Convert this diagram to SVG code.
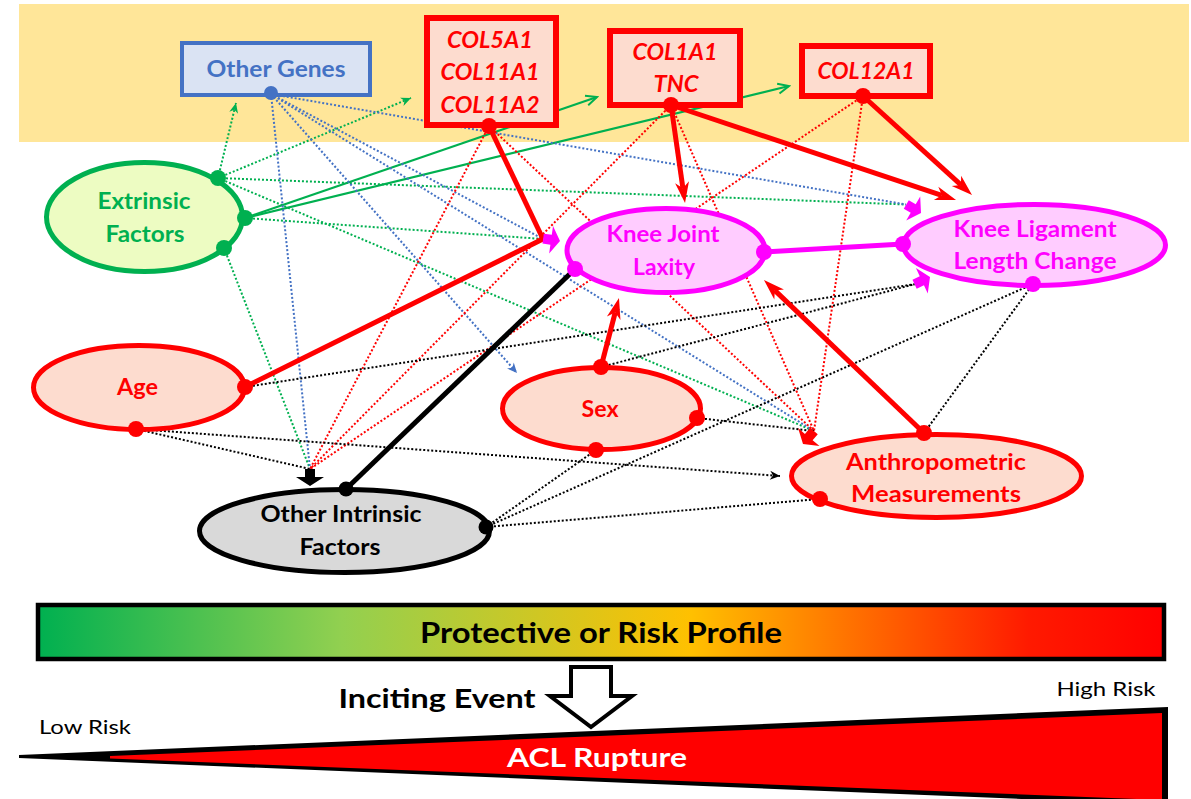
<svg xmlns="http://www.w3.org/2000/svg" xmlns:xlink="http://www.w3.org/1999/xlink" width="1191" height="799" viewBox="0 0 1191 799">
<style>
text{font-family:Lato,"Liberation Sans",sans-serif;font-weight:bold;text-anchor:middle}
.lbl{font-size:23px}
.gene{font-size:23px;font-style:italic;fill:#FF0000}
.dl{fill:none;stroke-width:2;stroke-dasharray:2 2}
.g{stroke:#00B050}.b{stroke:#4472C4}.r{stroke:#FF0000}.k{stroke:#000}
.thick{fill:none;stroke-width:5}
.pinkfill{fill:#FDDCCF;stroke:#FF0000;stroke-width:5}
</style>
<defs>
<linearGradient id="grad" x1="0" x2="1" y1="0" y2="0">
<stop offset="0" stop-color="#00B050"/>
<stop offset="0.27" stop-color="#92D050"/>
<stop offset="0.58" stop-color="#FFC000"/>
<stop offset="0.88" stop-color="#FF1A00"/>
<stop offset="1" stop-color="#FF0000"/>
</linearGradient>
<path id="blk" d="M0,0 L-9,-14 L-9,-5 L-17,-5 L-17,5 L-9,5 L-9,14 Z"/>
<marker id="mR" markerUnits="userSpaceOnUse" viewBox="-1 -8 24 16" markerWidth="24" markerHeight="16" refX="6" refY="0" orient="auto"><path d="M0,-7 L21,0 L0,7 L6,0 Z" fill="#FF0000"/></marker>
<marker id="mGo" markerUnits="userSpaceOnUse" viewBox="-13 -7 15 14" markerWidth="15" markerHeight="14" refX="0" refY="0" orient="auto"><path d="M-11,-5 L0,0 L-11,5" fill="none" stroke="#00B050" stroke-width="2"/></marker>
<marker id="mG" markerUnits="userSpaceOnUse" viewBox="-12 -6 13 12" markerWidth="13" markerHeight="12" refX="0" refY="0" orient="auto"><path d="M-10,-4.5 L0,0 L-10,4.5 L-7,0 Z" fill="#00B050"/></marker>
<marker id="mB" markerUnits="userSpaceOnUse" viewBox="-12 -6 13 12" markerWidth="13" markerHeight="12" refX="0" refY="0" orient="auto"><path d="M-10,-4.5 L0,0 L-10,4.5 L-7,0 Z" fill="#4472C4"/></marker>
<marker id="mK" markerUnits="userSpaceOnUse" viewBox="-12 -6 13 12" markerWidth="13" markerHeight="12" refX="0" refY="0" orient="auto"><path d="M-10,-4.5 L0,0 L-10,4.5 L-7,0 Z" fill="#000"/></marker>
</defs>
<rect x="0" y="0" width="1191" height="799" fill="#FFFFFF"/>
<rect x="19" y="4" width="1170" height="138" fill="#FFE699"/>

<g id="connectors">
<!-- green dotted -->
<line class="dl g" x1="218" y1="178" x2="236" y2="103" marker-end="url(#mG)"/>
<line class="dl g" x1="218" y1="178" x2="411" y2="98" marker-end="url(#mG)"/>
<line class="dl g" x1="218" y1="178" x2="906" y2="204.5"/>
<line class="dl g" x1="218" y1="178" x2="814" y2="431"/>
<line class="dl g" x1="245" y1="218" x2="543" y2="239"/>
<line class="dl g" x1="224" y1="248" x2="310" y2="469"/>
<!-- green solid -->
<line fill="none" stroke="#00B050" stroke-width="2.2" x1="245" y1="218" x2="597" y2="97" marker-end="url(#mGo)"/>
<line fill="none" stroke="#00B050" stroke-width="2.2" x1="245" y1="218" x2="789" y2="86" marker-end="url(#mGo)"/>
<!-- blue dotted -->
<line class="dl b" x1="271" y1="94" x2="310" y2="469"/>
<line class="dl b" x1="271" y1="94" x2="517" y2="373" marker-end="url(#mB)"/>
<line class="dl b" x1="271" y1="94" x2="543" y2="239"/>
<line class="dl b" x1="271" y1="94" x2="906" y2="204.5"/>
<line class="dl b" x1="271" y1="94" x2="814" y2="431"/>
<!-- red dotted -->
<line class="dl r" x1="489" y1="126" x2="310" y2="469"/>
<line class="dl r" x1="489" y1="126" x2="814" y2="431"/>
<line class="dl r" x1="671" y1="105" x2="310" y2="469"/>
<line class="dl r" x1="671" y1="105" x2="814" y2="431"/>
<line class="dl r" x1="863" y1="96" x2="310" y2="469"/>
<line class="dl r" x1="863" y1="96" x2="814" y2="431"/>
<!-- black dotted -->
<line class="dl k" x1="245" y1="387" x2="914.6" y2="284.2"/>
<line class="dl k" x1="601" y1="367" x2="914.6" y2="284.2"/>
<line class="dl k" x1="136" y1="429" x2="310" y2="469"/>
<line class="dl k" x1="136" y1="429" x2="780" y2="476" marker-end="url(#mK)"/>
<line class="dl k" x1="697" y1="418" x2="814" y2="431"/>
<line class="dl k" x1="924" y1="433" x2="1033" y2="284"/>
<line class="dl k" x1="486" y1="527" x2="596" y2="450"/>
<line class="dl k" x1="486" y1="527" x2="1033" y2="284"/>
<line class="dl k" x1="486" y1="527" x2="820" y2="499"/>
<!-- thick red -->
<line class="thick r" x1="489" y1="126" x2="543" y2="239"/>
<line class="thick r" x1="245" y1="387" x2="543" y2="239"/>
<line class="thick r" x1="671" y1="105" x2="682.9" y2="188.2" marker-end="url(#mR)"/>
<line class="thick r" x1="671" y1="105" x2="941.8" y2="195.3" marker-end="url(#mR)"/>
<line class="thick r" x1="863" y1="96" x2="960.9" y2="184.9" marker-end="url(#mR)"/>
<line class="thick r" x1="601" y1="367" x2="615.2" y2="312.5" marker-end="url(#mR)"/>
<line class="thick r" x1="924" y1="433" x2="774.8" y2="290.4" marker-end="url(#mR)"/>
<!-- thick black and magenta -->
<line class="thick k" x1="346" y1="489" x2="575" y2="269"/>
<line class="thick" stroke="#FF00FF" x1="764" y1="252" x2="903" y2="244"/>
<!-- block arrowheads -->
<use xlink:href="#blk" href="#blk" transform="translate(310,486) rotate(90)" fill="#000"/>
<use xlink:href="#blk" href="#blk" transform="translate(803,444) rotate(130)" fill="#FF0000"/>
<use xlink:href="#blk" href="#blk" transform="translate(560,241) rotate(8)" fill="#FF00FF"/>
<use xlink:href="#blk" href="#blk" transform="translate(921,213) rotate(30)" fill="#FF00FF"/>
<use xlink:href="#blk" href="#blk" transform="translate(930,277) rotate(-25)" fill="#FF00FF"/>
</g>

<g id="node-other-genes">
<rect x="182" y="43" width="188" height="52" fill="#DAE3F3" stroke="#4472C4" stroke-width="4"/>
<text class="lbl" x="276" y="77" fill="#4472C4" textLength="139" lengthAdjust="spacingAndGlyphs">Other Genes</text>
<circle cx="271" cy="93" r="7" fill="#4472C4"/>
</g>
<g id="node-col5a1">
<rect x="427" y="18" width="129" height="107" fill="#FDDCCF" stroke="#FF0000" stroke-width="6"/>
<text class="gene" x="490" y="48" textLength="86" lengthAdjust="spacingAndGlyphs">COL5A1</text>
<text class="gene" x="490" y="80" textLength="99" lengthAdjust="spacingAndGlyphs">COL11A1</text>
<text class="gene" x="490" y="113" textLength="99" lengthAdjust="spacingAndGlyphs">COL11A2</text>
<circle cx="489" cy="126" r="8" fill="#FF0000"/>
</g>
<g id="node-col1a1">
<rect x="610" y="31" width="130" height="74" fill="#FDDCCF" stroke="#FF0000" stroke-width="6"/>
<text class="gene" x="675" y="60" textLength="85" lengthAdjust="spacingAndGlyphs">COL1A1</text>
<text class="gene" x="676" y="92" textLength="45" lengthAdjust="spacingAndGlyphs">TNC</text>
<circle cx="671" cy="105" r="8" fill="#FF0000"/>
</g>
<g id="node-col12a1">
<rect x="802" y="46" width="128" height="50" fill="#FDDCCF" stroke="#FF0000" stroke-width="6"/>
<text class="gene" x="866" y="79" textLength="97" lengthAdjust="spacingAndGlyphs">COL12A1</text>
<circle cx="863" cy="96" r="8" fill="#FF0000"/>
</g>
<g id="node-extrinsic">
<ellipse cx="144.5" cy="217" rx="98" ry="54.5" fill="#EDFCC2" stroke="#00B050" stroke-width="5"/>
<text class="lbl" x="144" y="209" fill="#00B050" textLength="93" lengthAdjust="spacingAndGlyphs">Extrinsic</text>
<text class="lbl" x="145" y="242" fill="#00B050" textLength="79" lengthAdjust="spacingAndGlyphs">Factors</text>
<circle cx="218" cy="178" r="8" fill="#00B050"/>
<circle cx="245" cy="218" r="8" fill="#00B050"/>
<circle cx="224" cy="248" r="8" fill="#00B050"/>
</g>
<g id="node-knee-joint-laxity">
<ellipse cx="666" cy="250.5" rx="99" ry="42" fill="#FFCCFF" stroke="#FF00FF" stroke-width="5"/>
<text class="lbl" x="663" y="242" fill="#FF00FF" textLength="113" lengthAdjust="spacingAndGlyphs">Knee Joint</text>
<text class="lbl" x="664" y="275" fill="#FF00FF" textLength="62" lengthAdjust="spacingAndGlyphs">Laxity</text>
<circle cx="575" cy="269" r="8" fill="#FF00FF"/>
<circle cx="764" cy="252" r="8" fill="#FF00FF"/>
</g>
<g id="node-knee-ligament">
<ellipse cx="1034.5" cy="245" rx="131" ry="40.5" fill="#FFCCFF" stroke="#FF00FF" stroke-width="5"/>
<text class="lbl" x="1035" y="237" fill="#FF00FF" textLength="163" lengthAdjust="spacingAndGlyphs">Knee Ligament</text>
<text class="lbl" x="1035" y="269" fill="#FF00FF" textLength="163" lengthAdjust="spacingAndGlyphs">Length Change</text>
<circle cx="903" cy="244" r="8" fill="#FF00FF"/>
<circle cx="1033" cy="284" r="8" fill="#FF00FF"/>
</g>
<g id="node-age">
<ellipse class="pinkfill" cx="139" cy="387.5" rx="105.5" ry="42"/>
<text class="lbl" x="137.5" y="395" fill="#FF0000" textLength="41" lengthAdjust="spacingAndGlyphs">Age</text>
<circle cx="245" cy="387" r="8" fill="#FF0000"/>
<circle cx="136" cy="429" r="8" fill="#FF0000"/>
</g>
<g id="node-sex">
<ellipse class="pinkfill" cx="601.5" cy="408.5" rx="99" ry="41"/>
<text class="lbl" x="600" y="417" fill="#FF0000" textLength="37" lengthAdjust="spacingAndGlyphs">Sex</text>
<circle cx="601" cy="367" r="8" fill="#FF0000"/>
<circle cx="697" cy="418" r="8" fill="#FF0000"/>
<circle cx="596" cy="450" r="8" fill="#FF0000"/>
</g>
<g id="node-anthropometric">
<ellipse class="pinkfill" cx="936.5" cy="476" rx="145" ry="41.5"/>
<text class="lbl" x="936" y="470" fill="#FF0000" textLength="180" lengthAdjust="spacingAndGlyphs">Anthropometric</text>
<text class="lbl" x="936" y="502" fill="#FF0000" textLength="170" lengthAdjust="spacingAndGlyphs">Measurements</text>
<circle cx="924" cy="433" r="8" fill="#FF0000"/>
<circle cx="820" cy="499" r="8" fill="#FF0000"/>
</g>
<g id="node-other-intrinsic">
<ellipse cx="344.5" cy="531" rx="145" ry="41.5" fill="#D9D9D9" stroke="#000" stroke-width="5"/>
<text class="lbl" x="341" y="522" fill="#000" textLength="161" lengthAdjust="spacingAndGlyphs">Other Intrinsic</text>
<text class="lbl" x="340" y="555" fill="#000" textLength="81" lengthAdjust="spacingAndGlyphs">Factors</text>
<circle cx="346" cy="489" r="7.5" fill="#000"/>
<circle cx="486" cy="527" r="7.5" fill="#000"/>
</g>

<g id="risk-bar">
<rect x="38" y="605" width="1126" height="54" fill="url(#grad)" stroke="#000" stroke-width="4.5"/>
<text x="601" y="643" font-size="28" fill="#000" textLength="362" lengthAdjust="spacingAndGlyphs">Protective or Risk Profile</text>
</g>
<g id="inciting-event">
<polygon points="571,667 611,667 611,696 632,696 591,727 550,696 571,696" fill="#FFFFFF" stroke="#000" stroke-width="4" stroke-linejoin="miter"/>
<text x="437" y="708" font-size="27" fill="#000" textLength="197" lengthAdjust="spacingAndGlyphs">Inciting Event</text>
</g>
<g id="acl-wedge">
<polygon points="19,755 1168,707 1168,805 19,758" fill="#000"/>
<polygon points="110,756 1162,713 1162,800 110,758.5" fill="#FF0000"/>
<text x="597" y="767" font-size="27" fill="#FFFFFF" textLength="180" lengthAdjust="spacingAndGlyphs">ACL Rupture</text>
<text x="85" y="734" font-size="19" font-weight="normal" style="font-weight:normal" fill="#000" textLength="92" lengthAdjust="spacingAndGlyphs">Low Risk</text>
<text x="1106" y="696" font-size="19" style="font-weight:normal" fill="#000" textLength="99" lengthAdjust="spacingAndGlyphs">High Risk</text>
</g>
</svg>
